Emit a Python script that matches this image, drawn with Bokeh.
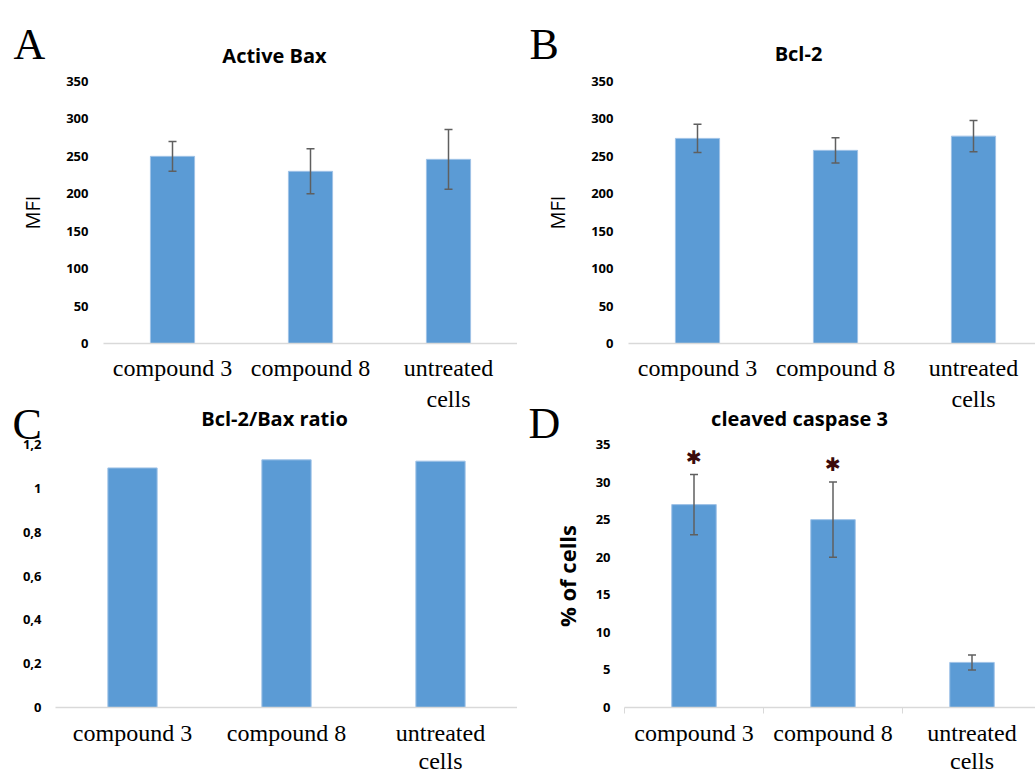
from bokeh.plotting import figure
from bokeh.layouts import column, row
from bokeh.models import (ColumnDataSource, Range1d, FixedTicker, Whisker, TeeHead)
from bokeh.core.properties import value
from bokeh.embed import file_html
from bokeh.resources import INLINE

# ---------------- data ----------------
categories = ["compound 3", "compound 8", "untreated\ncells"]

bax_mfi = [250, 230, 246]
bax_err = [20, 30, 40]

bcl2_mfi = [274, 258, 277]
bcl2_err = [19, 17, 21]

ratio = [1.093, 1.13, 1.124]

casp3_pct = [27, 25, 6]
casp3_err = [4, 5, 1]
casp3_sig = [True, True, False]

mfi_ticks = [0, 50, 100, 150, 200, 250, 300, 350]
ratio_ticks = [0, 0.2, 0.4, 0.6, 0.8, 1.0, 1.2]
ratio_tick_labels = ["0", "0,2", "0,4", "0,6", "0,8", "1", "1,2"]
pct_ticks = [0, 5, 10, 15, 20, 25, 30, 35]

panel_letters = ["A", "B", "C", "D"]
panel_titles = ["Active Bax", "Bcl-2", "Bcl-2/Bax ratio", "cleaved caspase 3"]

BAR = "#5b9bd5"
BAR_EDGE = "#9fc2e7"
ERR = "#5f5f5f"
AX = "#d9d9d9"
SANS = "Open Sans"
SERIF = "Liberation Serif"

W, H = 1035, 776
TOP_H, BOT_H = 414, 397
BOT_START = 385

xpos = [i + 0.5 for i in range(len(categories))]
cat_overrides = {x: c for x, c in zip(xpos, categories)}


def make_panel(width, height, left, top, bottom, x_end, y_max, ticks, vals,
               errs=None, ylabel=None, ylabel_bold=False, ylabel_size="20px",
               label_standoff=15, axlabel_standoff=17, cat_standoff=14,
               line_height=1.2, tick_overrides=None, cat_ticks=False,
               transparent=False):
    p = figure(width=width, height=height, output_backend="svg",
               toolbar_location=None, x_range=Range1d(0, x_end),
               y_range=Range1d(0, y_max),
               min_border_left=left, min_border_right=0,
               min_border_top=top, min_border_bottom=bottom)
    if transparent:
        p.border_fill_alpha = 0
        p.background_fill_alpha = 0
    p.outline_line_color = None
    p.xgrid.grid_line_color = None
    p.ygrid.grid_line_color = None

    data = dict(x=xpos, v=vals)
    if errs is not None:
        data["up"] = [v + e for v, e in zip(vals, errs)]
        data["lo"] = [v - e for v, e in zip(vals, errs)]
    src = ColumnDataSource(data)
    p.vbar(x="x", top="v", width=0.32, source=src, fill_color=BAR,
           line_color=BAR_EDGE, line_width=1)
    if errs is not None:
        w = Whisker(base="x", upper="up", lower="lo", source=src,
                    line_color=ERR, line_width=1.5, level="annotation",
                    upper_head=TeeHead(size=8, line_color=ERR, line_width=1.5),
                    lower_head=TeeHead(size=8, line_color=ERR, line_width=1.5))
        p.add_layout(w)

    ya = p.yaxis[0]
    ya.ticker = FixedTicker(ticks=ticks)
    ya.axis_line_color = None
    ya.major_tick_line_color = None
    ya.minor_tick_line_color = None
    ya.major_tick_out = 0
    ya.minor_tick_out = 0
    ya.major_label_standoff = label_standoff
    ya.major_label_text_font = SANS
    ya.major_label_text_font_style = "bold"
    ya.major_label_text_font_size = "13px"
    ya.major_label_text_color = "#000000"
    if tick_overrides:
        ya.major_label_overrides = tick_overrides
    if ylabel:
        ya.axis_label = ylabel
        ya.axis_label_text_font = SANS
        ya.axis_label_text_font_size = ylabel_size
        ya.axis_label_text_font_style = "bold" if ylabel_bold else "normal"
        ya.axis_label_text_color = "#000000"
        ya.axis_label_standoff = axlabel_standoff

    xa = p.xaxis[0]
    if cat_ticks:
        xa.ticker = FixedTicker(ticks=xpos, minor_ticks=[0, 1, 2, 3])
        xa.minor_tick_line_color = AX
        xa.minor_tick_out = 6
        xa.minor_tick_in = 0
    else:
        xa.ticker = FixedTicker(ticks=xpos)
        xa.minor_tick_line_color = None
        xa.minor_tick_out = 0
    xa.major_label_overrides = cat_overrides
    xa.axis_line_color = AX
    xa.axis_line_width = 1.5
    xa.major_tick_line_color = None
    xa.major_tick_out = 0
    xa.major_label_standoff = cat_standoff
    xa.major_label_text_font = SERIF
    xa.major_label_text_font_size = "24px"
    xa.major_label_text_line_height = line_height
    xa.major_label_text_color = "#000000"
    return p


# ---------------- panel A ----------------
pA = make_panel(517, TOP_H, 103, 81, 71, 3, 350, mfi_ticks, bax_mfi, bax_err,
                ylabel="MFI", cat_standoff=11)

# ---------------- panel B ----------------
pB = make_panel(518, TOP_H, 111, 79, 71, 407 / 138, 350, mfi_ticks, bcl2_mfi,
                bcl2_err, ylabel="MFI", cat_standoff=11)

# ---------------- panel C ----------------
pC = make_panel(517, BOT_H, 55, 59, 75, 3, 1.2, ratio_ticks, ratio,
                tick_overrides={t: l for t, l in zip(ratio_ticks, ratio_tick_labels)},
                label_standoff=14, cat_standoff=12, line_height=1.08,
                transparent=True)

# ---------------- panel D ----------------
pD = make_panel(518, BOT_H, 107, 59, 75, 411 / 139, 35, pct_ticks, casp3_pct,
                casp3_err, ylabel="% of cells", ylabel_bold=True,
                ylabel_size="22px", label_standoff=14, axlabel_standoff=11,
                cat_standoff=6, line_height=1.08, cat_ticks=True,
                transparent=True)
star_x = [x for x, s in zip(xpos, casp3_sig) if s]
star_y = [v + e for v, e, s in zip(casp3_pct, casp3_err, casp3_sig) if s]
pD.text(x=star_x, y=star_y, text=["\u2731"] * len(star_x), y_offset=-18,
        text_align="center", text_baseline="middle",
        text_font=value("DejaVu Sans"), text_font_size="19px",
        text_color="#3b0b0b")

# ------------- overlay with panel letters and titles -------------
ov = figure(width=W, height=H, output_backend="svg", toolbar_location=None,
            x_range=Range1d(0, W), y_range=Range1d(H, 0),
            x_axis_type=None, y_axis_type=None, min_border=0)
ov.border_fill_alpha = 0
ov.background_fill_alpha = 0
ov.outline_line_color = None
ov.grid.visible = False

letter_x = [13, 529, 12, 528]
letter_y = [44, 44, 424, 423]
title_x = [274, 798, 274, 799]
title_y = [55, 53, 418, 418]
ov.text(x=letter_x, y=letter_y, text=panel_letters, text_align="left",
        text_baseline="alphabetic", text_font=value(SERIF),
        text_font_size="44px", text_color="#000000")
ov.text(x=title_x, y=title_y, text=panel_titles, text_align="center",
        text_baseline="alphabetic", text_font=value(SANS),
        text_font_style="bold", text_font_size="20px", text_color="#000000")

top = row(pA, pB)
bottom = row(pC, pD)
bottom.margin = (BOT_START - TOP_H, 0, 0, 0)
grid = column(top, bottom)
grid_h = BOT_START + BOT_H
ov.margin = (-grid_h, 0, 0, 0)
layout = column(grid, ov, styles={"overflow": "hidden"})

open("out.html", "w").write(file_html(layout, INLINE))
